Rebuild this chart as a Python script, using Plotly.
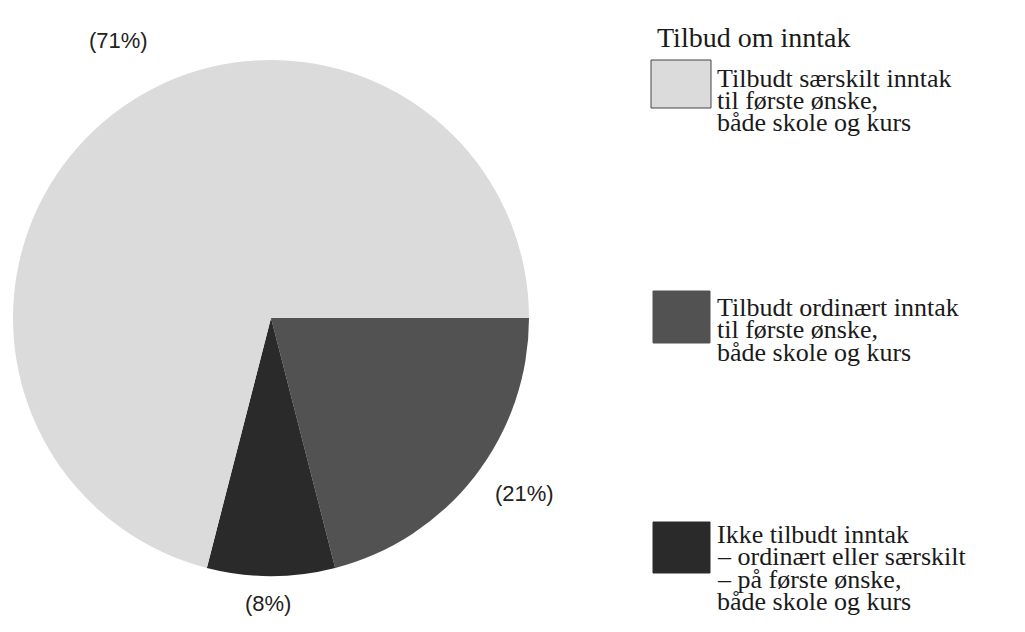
import plotly.graph_objects as go

# Data (clockwise from 3 o'clock)
categories = [
    "Tilbudt ordinært inntak til første ønske, både skole og kurs",
    "Ikke tilbudt inntak – ordinært eller særskilt – på første ønske, både skole og kurs",
    "Tilbudt særskilt inntak til første ønske, både skole og kurs",
]
shares = [21, 8, 71]
pct_labels = ["(21%)", "(8%)", "(71%)"]
colors = ["#525252", "#2a2a2a", "#dbdbdb"]

legend_title = "Tilbud om inntak"
legend_lines = [
    ["Tilbudt særskilt inntak", "til første ønske,", "både skole og kurs"],
    ["Tilbudt ordinært inntak", "til første ønske,", "både skole og kurs"],
    ["Ikke tilbudt inntak", "– ordinært eller særskilt", "– på første ønske,", "både skole og kurs"],
]
legend_colors = ["#dbdbdb", "#525252", "#2a2a2a"]

W, H = 1025, 632
OFF = 8  # page body margin

# helpers: convert picture pixels to paper coords
def px(x):
    return (x - OFF) / W

def py(y):
    return 1 - (y - OFF) / H

fig = go.Figure()
fig.add_trace(go.Pie(
    labels=categories,
    values=shares,
    sort=False,
    direction="clockwise",
    rotation=90,
    marker=dict(colors=colors, line=dict(width=0)),
    textinfo="none",
    hoverinfo="label+percent",
    showlegend=False,
    domain=dict(x=[px(13), px(529)], y=[py(576), py(60)]),
))

# percentage labels outside the pie
label_pos = [(524, 493), (268, 603), (118, 40)]
for txt, (x, y) in zip(pct_labels, label_pos):
    fig.add_annotation(x=px(x), y=py(y), xref="paper", yref="paper", text=txt,
                       showarrow=False, xanchor="center", yanchor="middle",
                       font=dict(family="Liberation Sans, Arial", size=22, color="#222222"))

serif = "Liberation Serif, Times New Roman, serif"

# legend title
fig.add_annotation(x=px(655), y=py(37), xref="paper", yref="paper", text=legend_title,
                   showarrow=False, xanchor="left", yanchor="middle",
                   font=dict(family=serif, size=28, color="#1a1a1a"))

# hand-drawn legend: boxes and tightly spaced lines
boxes = [(651, 711, 60, 108), (653, 710, 291, 343), (653, 710, 522, 573)]
line_starts = [78, 307, 534]
for lines, col, (x0, x1, y0, y1), ly in zip(legend_lines, legend_colors, boxes, line_starts):
    edge = "#444444" if col == "#dbdbdb" else col
    fig.add_shape(type="rect", xref="paper", yref="paper",
                  x0=px(x0), x1=px(x1), y0=py(y1), y1=py(y0),
                  fillcolor=col, line=dict(color=edge, width=1))
    for i, line in enumerate(lines):
        fig.add_annotation(x=px(715), y=py(ly + i * 22.5), xref="paper", yref="paper",
                           text=line, showarrow=False, xanchor="left", yanchor="middle",
                           font=dict(family=serif, size=26, color="#1a1a1a"))

fig.update_layout(
    width=W, height=H,
    margin=dict(l=0, r=0, t=0, b=0),
    paper_bgcolor="white",
    plot_bgcolor="white",
)

fig.write_html("out.html")
